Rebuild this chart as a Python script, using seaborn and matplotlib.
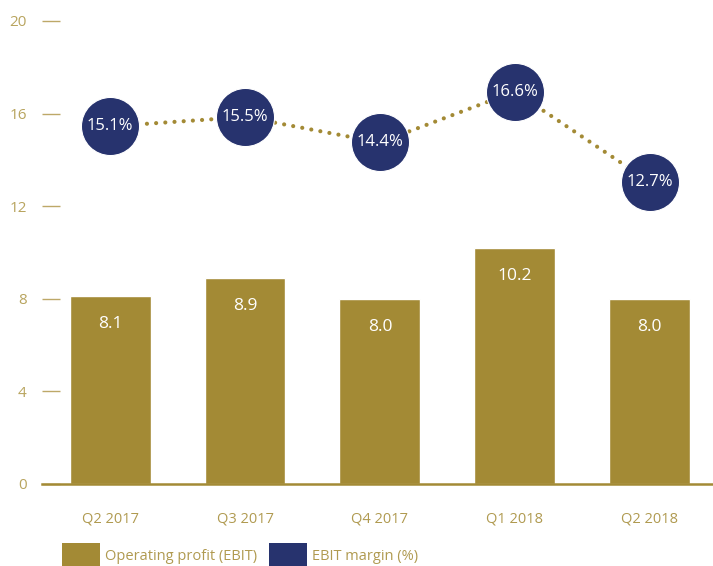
import matplotlib
matplotlib.use('Agg')
import matplotlib.pyplot as plt
from matplotlib.patches import Patch
import numpy as np
import pandas as pd
import seaborn as sns

quarters = ['Q2 2017', 'Q3 2017', 'Q4 2017', 'Q1 2018', 'Q2 2018']
ebit = [8.1, 8.9, 8.0, 10.2, 8.0]
margin = [15.1, 15.5, 14.4, 16.6, 12.7]
yticks = [0, 4, 8, 12, 16, 20]

gold = '#A38A35'
navy = '#27336E'
label_col = '#B09A50'

sns.set_style('white')
plt.rcParams['font.family'] = ['Open Sans', 'DejaVu Sans']

df = pd.DataFrame({'quarter': quarters, 'ebit': ebit, 'margin': margin})
df['pos'] = np.arange(len(df))

fig = plt.figure(figsize=(7.13, 5.66), dpi=100)
ax = fig.add_axes([0.059, 0.145, 0.941, 0.818])

sns.barplot(data=df, x='pos', y='ebit', color=gold, saturation=1, width=0.6,
            native_scale=True, ax=ax)
for i, v in enumerate(ebit):
    ax.text(i, v - 1.2, f'{v:.1f}', color='white', fontsize=12.5,
            ha='center', va='center')

ax.set_xlim(-0.505, 4.47)
ax.set_ylim(0, 20)
ax.set_yticks(yticks)
ax.set_xticks(df['pos'])
ax.set_xticklabels(quarters)
ax.set_xlabel('')
ax.set_ylabel('')
for s in ['top', 'right', 'left']:
    ax.spines[s].set_visible(False)
ax.spines['bottom'].set_color(gold)
ax.spines['bottom'].set_linewidth(1.8)
ax.tick_params(axis='y', direction='in', length=13, width=1, color='#BDA868',
               pad=11, labelsize=11, labelcolor='#B8A45E')
ax.tick_params(axis='x', length=0, pad=20, labelsize=10.5, labelcolor=label_col)

# margin series on a twin axis
ax2 = ax.twinx()
sns.lineplot(data=df, x='pos', y='margin', color=gold, linewidth=3.0,
             linestyle=(0, (0.01, 2.2)), dash_capstyle='round', ax=ax2, zorder=1)
sns.scatterplot(data=df, x='pos', y='margin', color=navy, s=1750,
                edgecolor='white', linewidth=0.8, ax=ax2, zorder=3)
for i, v in enumerate(margin):
    ax2.text(i, v, f'{v:.1f}%', color='white', fontsize=12,
             ha='center', va='center', zorder=4)
ax2.set_ylim(-0.35, 19.65)
ax2.set_yticks([])
ax2.set_ylabel('')
ax2.set_xlabel('')
for s in ax2.spines.values():
    s.set_visible(False)
ax2.set_xlim(-0.505, 4.47)

handles = [Patch(facecolor=gold, edgecolor='none'), Patch(facecolor=navy, edgecolor='none')]
fig.legend(handles, ['Operating profit (EBIT)', 'EBIT margin (%)'],
           loc='lower left', bbox_to_anchor=(0.079, -0.012), ncol=2, frameon=False,
           fontsize=10.5, labelcolor=label_col,
           handlelength=2.6, handleheight=2.16,
           handletextpad=0.35, columnspacing=0.8, borderaxespad=0)

fig.savefig('out.png', dpi=100)
